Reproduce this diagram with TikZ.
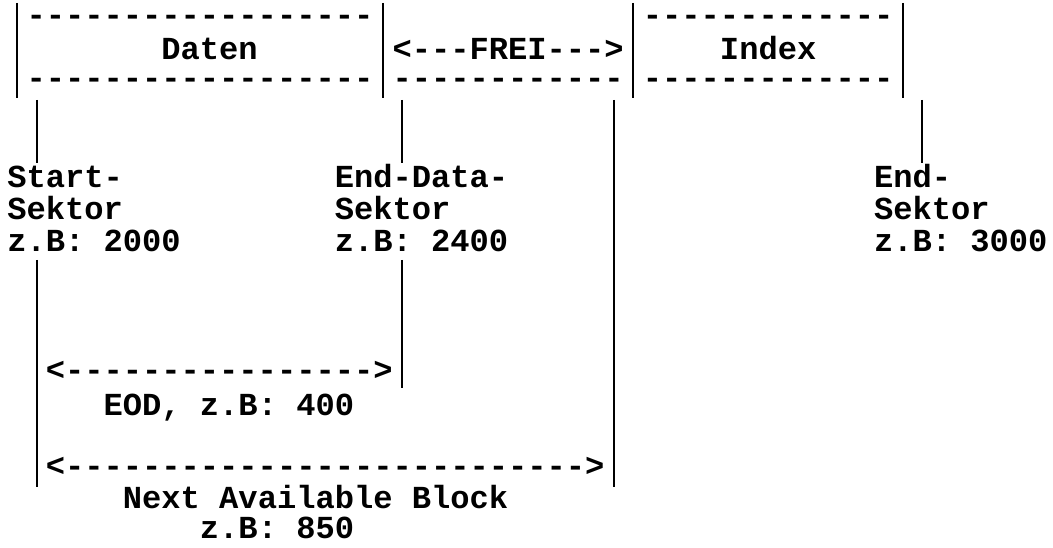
\documentclass[tikz,border=0pt]{standalone}
\usepackage{fontspec}
\setmonofont{Liberation Mono}
\begin{document}
\begin{tikzpicture}[x=1pt,y=-1pt,
  txt/.style={anchor=base west,inner sep=0pt,outer sep=0pt,
    font=\ttfamily\bfseries\fontsize{32.1}{38}\selectfont},
  bar/.style={line width=2pt,black}]
\useasboundingbox (0,0) rectangle (1053,548);
% top boxes
\node[txt] (dtop) at (26.63,25.7) {------------------};
\node[txt] (itop) at (642.95,25.7) {-------------};
\node[txt] (daten) at (161.45,60) {Daten};
\node[txt] (frei) at (392.57,60) {<---FREI--->};
\node[txt] (index) at (719.99,60) {Index};
\node[txt] (dbot) at (26.63,88.7) {------------------};
\node[txt] (fbot) at (392.57,88.7) {------------};
\node[txt] (ibot) at (642.95,88.7) {-------------};
\draw[bar] (17,3) -- (17,98);
\draw[bar] (383,3) -- (383,98);
\draw[bar] (633,3) -- (633,98);
\draw[bar] (903,3) -- (903,98);
% pointer bars
\draw[bar] (37,100) -- (37,163);
\draw[bar] (402,100) -- (402,163);
\draw[bar] (614,100) -- (614,487);
\draw[bar] (922,100) -- (922,163);
% labels
\node[txt] (s1) at (7.37,187.5) {Start-};
\node[txt] (s2) at (7.37,219.5) {Sektor};
\node[txt] (s3) at (7.37,251.5) {z.B: 2000};
\node[txt] (e1) at (334.79,187.5) {End-Data-};
\node[txt] (e2) at (334.79,219.5) {Sektor};
\node[txt] (e3) at (334.79,251.5) {z.B: 2400};
\node[txt] (n1) at (874.07,187.5) {End-};
\node[txt] (n2) at (874.07,219.5) {Sektor};
\node[txt] (n3) at (874.07,251.5) {z.B: 3000};
% lower bars
\draw[bar] (37,260) -- (37,487);
\draw[bar] (402,260) -- (402,388);
% spans
\node[txt] (eodarrow) at (45.89,380.7) {<---------------->};
\node[txt] (eod) at (103.67,415) {EOD, z.B: 400};
\node[txt] (nabarrow) at (45.89,476.7) {<--------------------------->};
\node[txt] (nab) at (122.93,508) {Next Available Block};
\node[txt] (nabv) at (199.97,538) {z.B: 850};
\end{tikzpicture}
\end{document}
